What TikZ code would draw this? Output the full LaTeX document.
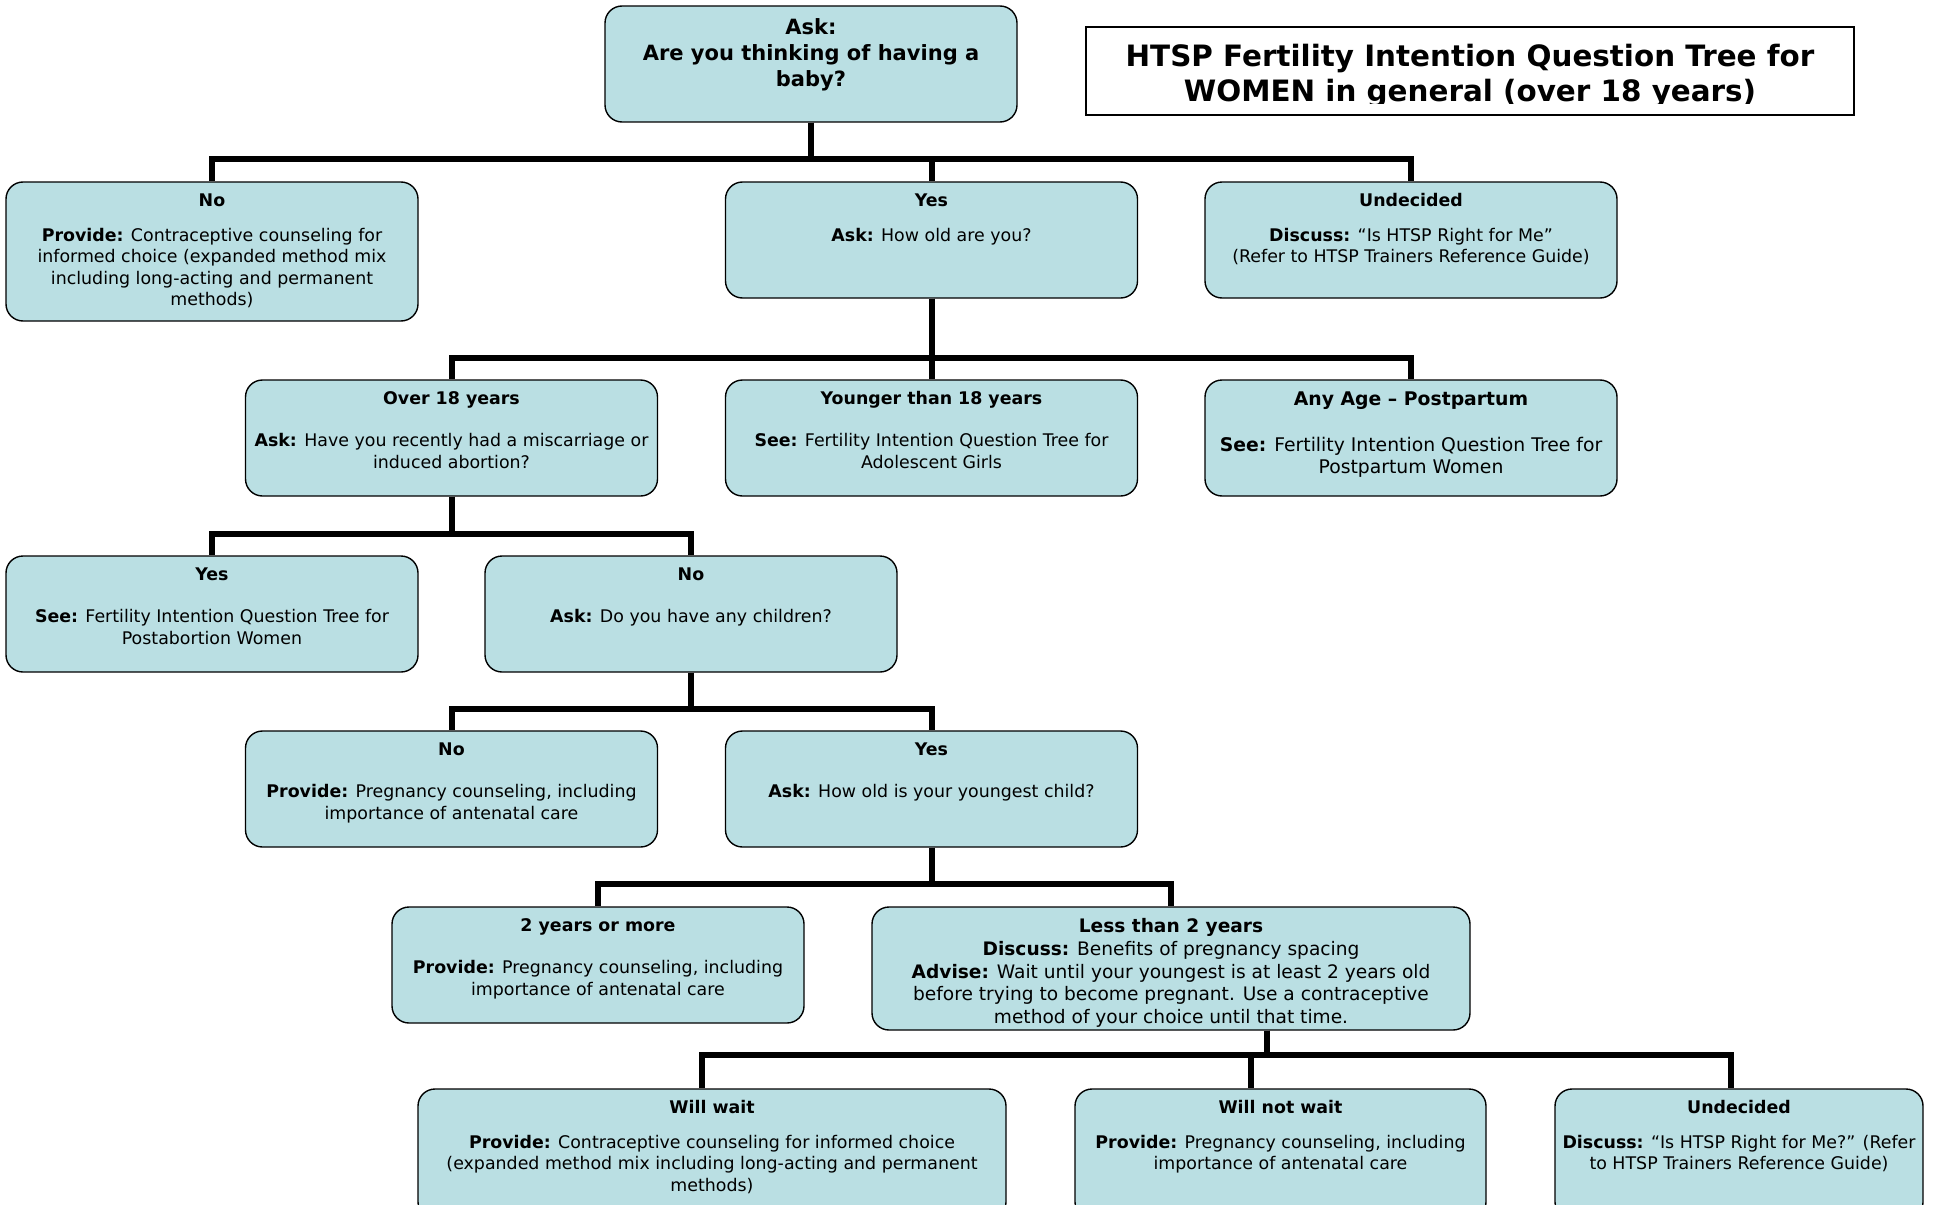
\documentclass[tikz,border=0pt]{standalone}
\usepackage{fontspec}
\setmainfont{DejaVu Sans}

\definecolor{boxfill}{RGB}{186,223,227}
\newcommand{\qfont}{\fontsize{8.7}{10.7}\selectfont}
% box text: width, height, lines (top aligned)
\newcommand{\qtext}[3]{\parbox[c][#2][t]{#1}{\centering\vspace*{5pt}\makebox[#1]{\begin{tabular}[t]{@{}c@{}}#3\end{tabular}}}}

\tikzset{
  qbox/.style={draw, line width=0.7pt, fill=boxfill, rounded corners=8.5pt, inner sep=0pt, font=\qfont},
  titlebox/.style={draw, line width=0.85pt, fill=white, inner sep=0pt, minimum width=384pt, minimum height=44pt},
  titletext/.style={inner sep=0pt, align=center, font=\fontsize{14.7}{17.3}\selectfont\bfseries},
  conn/.style={line width=3pt},
}

\begin{document}
\begin{tikzpicture}[x=0.5pt, y=-0.5pt]
\useasboundingbox (0,0) rectangle (1937,1204);
\clip (0,0) rectangle (1937,1204);

% title
\node[titlebox] (title) at (1470,71) {};
\begin{scope}
  \clip (title.north west) rectangle ([yshift=6pt]title.south east);
  \node[titletext] (titletxt) at (1470,76) {HTSP Fertility Intention Question Tree for\\WOMEN in general (over 18 years)};
\end{scope}

% question boxes
\node[qbox, font=\fontsize{10.5}{13}\selectfont\bfseries] (ask) at (811,64)
  {\qtext{206pt}{58pt}{Ask:\\Are you thinking of having a\\baby?}};

\node[qbox] (no1) at (212,251.5)
  {\qtext{206pt}{69.5pt}{\textbf{No}\\[6.6pt]\textbf{Provide:} Contraceptive counseling for\\informed choice (expanded method mix\\including long-acting and permanent\\methods)}};
\node[qbox] (yes1) at (931.5,240)
  {\qtext{206pt}{58pt}{\textbf{Yes}\\[6.6pt]\textbf{Ask:} How old are you?}};
\node[qbox] (und1) at (1411,240)
  {\qtext{206pt}{58pt}{\textbf{Undecided}\\[6.6pt]\textbf{Discuss:} “Is HTSP Right for Me”\\(Refer to HTSP Trainers Reference Guide)}};

\node[qbox] (over) at (451.5,438)
  {\qtext{206pt}{58pt}{\textbf{Over 18 years}\\[10.3pt]\textbf{Ask:} Have you recently had a miscarriage or\\induced abortion?}};
\node[qbox] (young) at (931.5,438)
  {\qtext{206pt}{58pt}{\textbf{Younger than 18 years}\\[10.3pt]\textbf{See:} Fertility Intention Question Tree for\\Adolescent Girls}};
\node[qbox, font=\fontsize{9.4}{11.1}\selectfont] (any) at (1411,438)
  {\qtext{206pt}{58pt}{\textbf{Any Age – Postpartum}\\[11.8pt]\textbf{See:} Fertility Intention Question Tree for\\Postpartum Women}};

\node[qbox] (yes3) at (212,614)
  {\qtext{206pt}{58pt}{\textbf{Yes}\\[10.3pt]\textbf{See:} Fertility Intention Question Tree for\\Postabortion Women}};
\node[qbox] (no3) at (691,614)
  {\qtext{206pt}{58pt}{\textbf{No}\\[10.3pt]\textbf{Ask:} Do you have any children?}};

\node[qbox] (no4) at (451.5,789)
  {\qtext{206pt}{58pt}{\textbf{No}\\[10.3pt]\textbf{Provide:} Pregnancy counseling, including\\importance of antenatal care}};
\node[qbox] (yes4) at (931.5,789)
  {\qtext{206pt}{58pt}{\textbf{Yes}\\[10.3pt]\textbf{Ask:} How old is your youngest child?}};

\node[qbox] (two) at (598,965)
  {\qtext{206pt}{58pt}{\textbf{2 years or more}\\[10.3pt]\textbf{Provide:} Pregnancy counseling, including\\importance of antenatal care}};
\node[qbox, font=\fontsize{9.3}{11.3}\selectfont] (less) at (1171,968.5)
  {\qtext{299pt}{61.5pt}{\textbf{Less than 2 years}\\\textbf{Discuss:} Benefits of pregnancy spacing\\\textbf{Advise:} Wait until your youngest is at least 2 years old\\before trying to become pregnant. Use a contraceptive\\method of your choice until that time.}};

\node[qbox] (wait) at (712,1154)
  {\qtext{294pt}{65pt}{\textbf{Will wait}\\[6.6pt]\textbf{Provide:} Contraceptive counseling for informed choice\\(expanded method mix including long-acting and permanent\\methods)}};
\node[qbox] (notwait) at (1280.5,1154)
  {\qtext{205.5pt}{65pt}{\textbf{Will not wait}\\[6.6pt]\textbf{Provide:} Pregnancy counseling, including\\importance of antenatal care}};
\node[qbox] (und6) at (1739,1154)
  {\qtext{184pt}{65pt}{\textbf{Undecided}\\[6.6pt]\textbf{Discuss:} “Is HTSP Right for Me?” (Refer\\to HTSP Trainers Reference Guide)}};

% connectors
\coordinate (bus1) at (0,159);
\coordinate (bus2) at (0,358);
\coordinate (bus3) at (0,534);
\coordinate (bus4) at (0,709);
\coordinate (bus5) at (0,884);
\coordinate (bus6) at (0,1055);
\coordinate (lessdrop) at ([xshift=48pt]less.south);

\foreach \c in {no1,yes1,und1}
  \draw[conn] (ask.south) -- (ask.south |- bus1) -| (\c.north);
\foreach \c in {over,young,any}
  \draw[conn] (yes1.south) -- (yes1.south |- bus2) -| (\c.north);
\foreach \c in {yes3,no3}
  \draw[conn] (over.south) -- (over.south |- bus3) -| (\c.north);
\foreach \c in {no4,yes4}
  \draw[conn] (no3.south) -- (no3.south |- bus4) -| (\c.north);
\foreach \c in {two,less}
  \draw[conn] (yes4.south) -- (yes4.south |- bus5) -| (\c.north);
\foreach \c/\s in {wait/-5pt,notwait/-15pt,und6/-4pt}
  \draw[conn] (lessdrop) -- (lessdrop |- bus6) -| ([xshift=\s]\c.north);
\end{tikzpicture}
\end{document}
